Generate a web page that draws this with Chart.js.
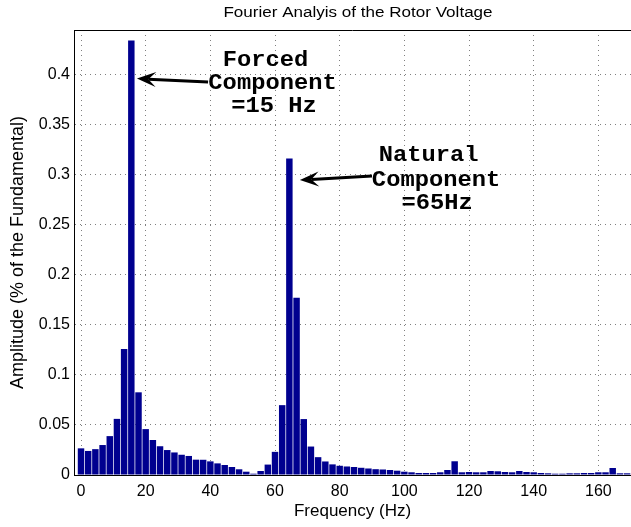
<!DOCTYPE html>
<html>
<head>
<meta charset="utf-8">
<script src="https://cdn.jsdelivr.net/npm/chart.js@4.4.0/dist/chart.umd.min.js"></script>
<style>
	html, body { margin: 0; padding: 0; background: #fff; }
	#wrap { width: 631px; height: 527px; }
</style>
</head>
<body>
<div id="wrap"><canvas id="mycanvas" width="631" height="527"></canvas></div>
<script>
// frequency bins (Hz)
var freq = [
	0, 2.22, 4.44, 6.67, 8.89, 11.11, 13.33, 15.56, 17.78,
	20, 22.22, 24.44, 26.67, 28.89, 31.11, 33.33, 35.56, 37.78,
	40, 42.22, 44.44, 46.67, 48.89, 51.11, 53.33, 55.56, 57.78,
	60, 62.22, 64.44, 66.67, 68.89, 71.11, 73.33, 75.56, 77.78,
	80, 82.22, 84.44, 86.67, 88.89, 91.11, 93.33, 95.56, 97.78,
	100, 102.22, 104.44, 106.67, 108.89, 111.11, 113.33, 115.56, 117.78,
	120, 122.22, 124.44, 126.67, 128.89, 131.11, 133.33, 135.56, 137.78,
	140, 142.22, 144.44, 146.67, 148.89, 151.11, 153.33, 155.56, 157.78,
	160, 162.22, 164.44, 166.67, 168.89
];

// amplitude of each bin
var amplitude = [
	0.0266, 0.0240, 0.0258, 0.0299, 0.0388, 0.0560, 0.1257, 0.4335, 0.0825,
	0.0458, 0.0349, 0.0287, 0.0249, 0.0225, 0.0202, 0.0190, 0.0153, 0.0152,
	0.0136, 0.0116, 0.0100, 0.0080, 0.0057, 0.0033, 0.0013, 0.0040, 0.0104,
	0.0231, 0.0697, 0.3158, 0.1768, 0.0558, 0.0284, 0.0178, 0.0135, 0.0106,
	0.0092, 0.0085, 0.0080, 0.0072, 0.0065, 0.0058, 0.0055, 0.0050, 0.0043,
	0.0033, 0.0027, 0.0020, 0.0020, 0.0020, 0.0027, 0.0050, 0.0137, 0.0027,
	0.0030, 0.0027, 0.0027, 0.0040, 0.0037, 0.0030, 0.0027, 0.0040, 0.0030,
	0.0027, 0.0020, 0.0017, 0.0013, 0.0013, 0.0017, 0.0017, 0.0020, 0.0020,
	0.0027, 0.0027, 0.0070, 0.0017, 0.0017
];

var chartTitle = 'Fourier Analyis of the Rotor Voltage';
var xLabel = 'Frequency (Hz)';
var yLabel = 'Amplitude (% of the Fundamental)';

// text notes and arrows, placed in data units
var forcedLines = ['Forced', 'Component', '=15 Hz'];
var naturalLines = ['Natural', 'Component', '=65Hz'];
var notes = [
	{ lines: forcedLines, pos: [[57.07, 0.4140], [59.23, 0.3910], [59.70, 0.3681]],
	  arrow: { from: [39.3, 0.3920], to: [17.3, 0.3955] } },
	{ lines: naturalLines, pos: [[107.48, 0.3192], [109.80, 0.2943], [110.11, 0.2713]],
	  arrow: { from: [90.0, 0.2983], to: [67.7, 0.2943] } }
];

function drawArrow(ctx, x1, y1, x2, y2) {
	var ang = Math.atan2(y2 - y1, x2 - x1);
	var hl = 19, hw = 7.5;
	ctx.lineWidth = 3;
	ctx.strokeStyle = '#000';
	ctx.fillStyle = '#000';
	ctx.beginPath();
	ctx.moveTo(x1, y1);
	ctx.lineTo(x2 - Math.cos(ang) * hl * 0.6, y2 - Math.sin(ang) * hl * 0.6);
	ctx.stroke();
	ctx.save();
	ctx.translate(x2, y2);
	ctx.rotate(ang);
	ctx.beginPath();
	ctx.moveTo(0, 0);
	ctx.lineTo(-hl, -hw);
	ctx.lineTo(-hl * 0.6, 0);
	ctx.lineTo(-hl, hw);
	ctx.closePath();
	ctx.fill();
	ctx.restore();
}

var notesPlugin = {
	id: 'notes',
	afterDraw: function(chart) {
		var ctx = chart.ctx;
		var xs = chart.scales.x, ys = chart.scales.y;
		var area = chart.chartArea;
		ctx.save();
		// top frame line
		ctx.strokeStyle = '#000';
		ctx.lineWidth = 1;
		ctx.beginPath();
		ctx.moveTo(area.left, area.top + 0.5);
		ctx.lineTo(area.right, area.top + 0.5);
		ctx.stroke();

		// title
		ctx.fillStyle = '#000';
		ctx.textAlign = 'center';
		ctx.textBaseline = 'middle';
		ctx.save();
		ctx.translate(358, 12.5);
		ctx.scale(1.1, 1);
		ctx.font = '15.5px "Liberation Sans", Arial, sans-serif';
		ctx.fillText(chartTitle, 0, 0);
		ctx.restore();

		notes.forEach(function(n) {
			n.lines.forEach(function(t, i) {
				var px = xs.getPixelForValue(n.pos[i][0]);
				var py = ys.getPixelForValue(n.pos[i][1]);
				ctx.save();
				ctx.translate(px, py);
				ctx.scale(1.08, 1);
				ctx.font = 'bold 22px "Liberation Mono", "Courier New", monospace';
				ctx.fillText(t, 0, 0);
				ctx.restore();
			});
			drawArrow(ctx,
				xs.getPixelForValue(n.arrow.from[0]), ys.getPixelForValue(n.arrow.from[1]),
				xs.getPixelForValue(n.arrow.to[0]), ys.getPixelForValue(n.arrow.to[1]));
		});
		ctx.restore();
	}
};

var points = [];
for (var i in freq) {
	points.push({ x: freq[i], y: amplitude[i] });
}

var tickFont = { family: '"Liberation Sans", Arial, sans-serif', size: 16 };
var labelFont = { family: '"Liberation Sans", Arial, sans-serif', size: 17 };

var ctx = document.getElementById('mycanvas');
var barGraph = new Chart(ctx, {
	type: 'bar',
	data: {
		datasets: [{
			data: points,
			backgroundColor: '#00008f',
			borderWidth: 0,
			barPercentage: 0.9,
			categoryPercentage: 1.0
		}]
	},
	options: {
		responsive: false,
		animation: false,
		devicePixelRatio: 1,
		layout: { padding: { top: 30, left: 0, right: 0, bottom: 0 } },
		plugins: {
			legend: { display: false },
			tooltip: { enabled: false },
			title: { display: false }
		},
		scales: {
			x: {
				type: 'linear',
				offset: false,
				min: -2.17,
				max: 170.1,
				afterFit: function(s) { s.height = 52; },
				grid: { offset: false, drawTicks: false, color: 'rgba(0,0,0,0.5)', lineWidth: 1 },
				border: { display: true, color: '#000', width: 1, dash: [1, 4] },
				ticks: {
					stepSize: 20,
					includeBounds: false,
					padding: 7,
					color: '#000',
					font: tickFont,
					maxRotation: 0,
					callback: function(v) { return String(v); }
				},
				title: {
					display: true,
					text: xLabel,
					color: '#000',
					font: labelFont,
					padding: { top: 0, bottom: 5 }
				}
			},
			y: {
				min: 0,
				max: 0.444,
				afterFit: function(s) { s.width = 74; },
				grid: { drawTicks: false, color: 'rgba(0,0,0,0.5)', lineWidth: 1 },
				border: { display: true, color: '#000', width: 1, dash: [1, 4] },
				ticks: {
					stepSize: 0.05,
					includeBounds: false,
					padding: 4,
					color: '#000',
					font: tickFont,
					callback: function(v) { return String(+v.toFixed(2)); }
				},
				title: {
					display: true,
					text: yLabel,
					color: '#000',
					font: { family: '"Liberation Sans", Arial, sans-serif', size: 18 },
					padding: { top: 7, bottom: 0 }
				}
			}
		}
	},
	plugins: [notesPlugin]
});
</script>
</body>
</html>
